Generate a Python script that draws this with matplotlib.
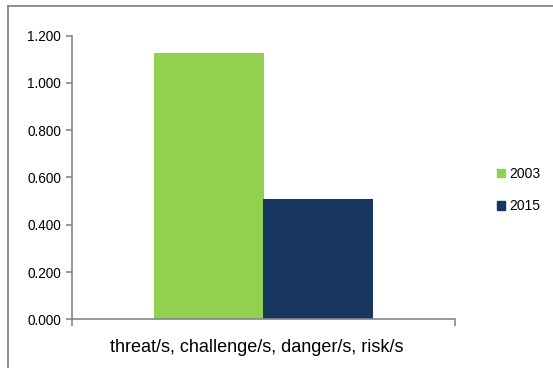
import matplotlib
matplotlib.use("Agg")
import matplotlib.pyplot as plt
from matplotlib.lines import Line2D
from matplotlib.ticker import FormatStrFormatter

plt.rcParams['font.family'] = ['Liberation Sans', 'DejaVu Sans']

category = "threat/s, challenge/s, danger/s, risk/s"
years = ["2003", "2015"]
values = [1.126, 0.509]
colors = ["#92D050", "#17375E"]
yticks = [0.0, 0.2, 0.4, 0.6, 0.8, 1.0, 1.2]

W, H = 553, 372
fig = plt.figure(figsize=(W / 100, H / 100), dpi=100)

# plot area in pixel coordinates
x0, x1 = 72, 455
y_top, y_bot = 35.5, 319.3
ax = fig.add_axes([x0 / W, 1 - y_bot / H, (x1 - x0) / W, (y_bot - y_top) / H])

bar_w = 110 / 383
offsets = [-bar_w / 2, bar_w / 2]
for yr, v, c, off in zip(years, values, colors, offsets):
    ax.bar(0.5 + off, v, width=bar_w, color=c, label=yr, linewidth=0)

ax.set_xlim(0, 1)
ax.set_ylim(0, 1.2)
ax.set_yticks(yticks)
ax.yaxis.set_major_formatter(FormatStrFormatter('%.3f'))
ax.set_xticks([0, 1])
ax.set_xticklabels(["", ""])
ax.tick_params(axis='y', direction='out', length=4, width=1.2, color='#868686',
               labelsize=9.8, pad=4, labelcolor='black')
ax.tick_params(axis='x', direction='out', length=5, width=1.2, color='#868686')
for s in ['top', 'right']:
    ax.spines[s].set_visible(False)
for s in ['left', 'bottom']:
    ax.spines[s].set_color('#868686')
    ax.spines[s].set_linewidth(1.2)

fig.text(257 / W, 1 - 347 / H, category, ha='center', va='center', fontsize=13)

handles = [plt.Rectangle((0, 0), 1, 1, color=c) for c in colors]
fig.legend(handles, years, loc='center left', bbox_to_anchor=(484 / W, 1 - 190 / H),
           frameon=False, fontsize=10, handlelength=0.6, handleheight=0.6,
           handletextpad=0.3, labelspacing=1.3)

# chart frame (top and left edges)
fig.add_artist(Line2D([7.5 / W, 7.5 / W], [1 - 367 / H, 1 - 6 / H],
                      transform=fig.transFigure, color='#868686', lw=1.3))
fig.add_artist(Line2D([7.5 / W, 1.0], [1 - 6 / H, 1 - 6 / H],
                      transform=fig.transFigure, color='#868686', lw=1.3))

fig.savefig("out.png", dpi=100)
